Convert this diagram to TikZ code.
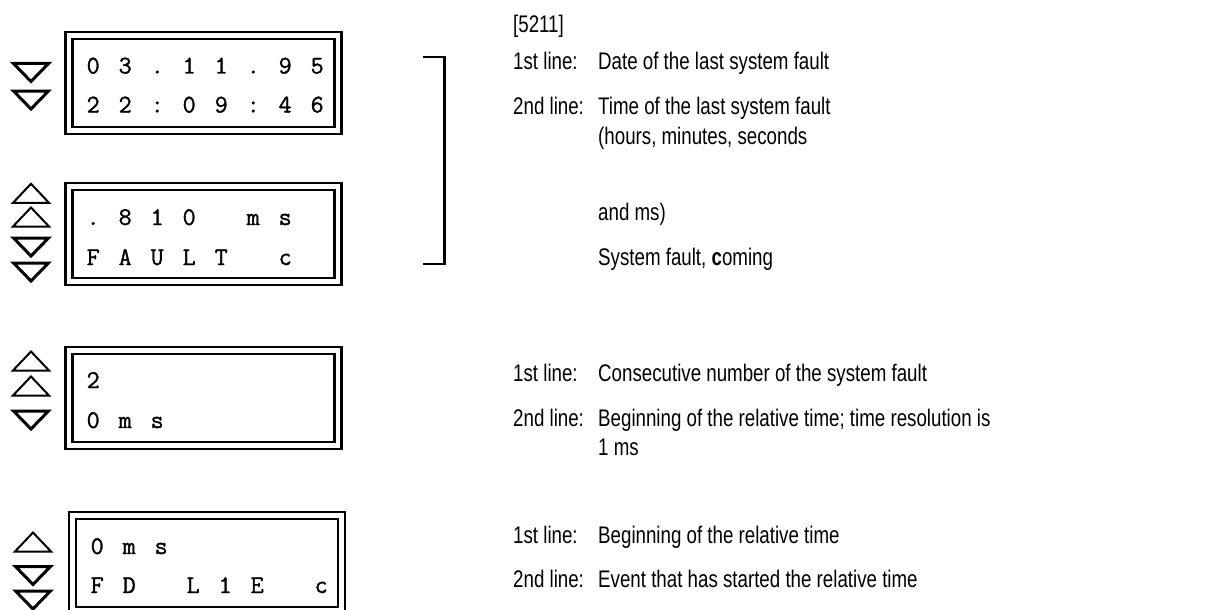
\documentclass[tikz,border=0pt]{standalone}
\usepackage{fontspec}
\usepackage{tikz}
\usetikzlibrary{positioning}
\newfontfamily\descfont{Liberation Sans}[FakeStretch=0.78]
\newfontfamily\lcdfam{Latin Modern Mono}[FakeBold=1.2]
\newcommand{\lcdfont}{\lcdfam\fontsize{25.5}{28}\selectfont}
% one 32pt cell per display character, _ is a blank cell
\newcommand{\lcd}[1]{\lcdstep#1\relax}
\def\lcdstep#1{\ifx#1\relax\else\makebox[32pt]{\ifx_#1\else#1\fi}\expandafter\lcdstep\fi}
\newcommand{\keydn}[2]{\draw[keydn] (#1-17.5,#2-9) -- (#1+17.5,#2-9) -- (#1,#2+9) -- cycle;}
\newcommand{\keyup}[2]{\draw[keyup] (#1-18,#2+9.5) -- (#1+18,#2+9.5) -- (#1,#2-9.5) -- cycle;}

\begin{document}
\begin{tikzpicture}[x=1pt,y=-1pt,
  lcdbox/.style={draw, line width=2.5pt, double, double distance=4.5pt,
    minimum width=269pt, minimum height=95pt, inner sep=0pt},
  lcdrow/.style={anchor=base west, inner sep=0pt, font=\lcdfont},
  desc/.style={anchor=base west, inner sep=0pt, font=\descfont\fontsize{24}{28}\selectfont},
  keydn/.style={line width=3pt},
  keyup/.style={line width=2pt}]
\useasboundingbox (0,0) rectangle (1218,610);

% displays
\node[lcdbox] (disp1) at (203.5,83) {};
\node[lcdbox] (disp2) at (203.5,234) {};
\node[lcdbox] (disp3) at (203.5,398) {};
\node[lcdbox] (disp4) at (207,563) {};

\node[lcdrow] (disp1a) at (77,73.5) {\lcd{03.11.95}};
\node[lcdrow] (disp1b) at (77,112.5) {\lcd{22:09:46}};
\node[lcdrow] (disp2a) at (77,225) {\lcd{.810_ms}};
\node[lcdrow] (disp2b) at (77,265) {\lcd{FAULT_c}};
\node[lcdrow] (disp3a) at (77,388) {\lcd{2}};
\node[lcdrow] (disp3b) at (77,428) {\lcd{0ms}};
\node[lcdrow] (disp4a) at (81,554) {\lcd{0ms}};
\node[lcdrow] (disp4b) at (81,593) {\lcd{FD_L1E_c}};

% keys
\keydn{31}{72.5}
\keydn{31}{100}
\keyup{31}{193.3}
\keyup{31}{217}
\keydn{31}{247}
\keydn{31}{272}
\keyup{31}{361}
\keyup{31}{386}
\keydn{31}{420}
\keyup{33}{542}
\keydn{33}{575.5}
\keydn{33}{600}

% bracket
\draw[line width=2.2pt] (423,57) -- (444.5,57) -- (444.5,264) -- (423,264);

% descriptions
\node[desc] (addr) at (513,33) {[5211]};
\node[desc] (lbl1a) at (513,70) {1st line:};
\node[desc] (txt1a) at (598,70) {Date of the last system fault};
\node[desc] (lbl1b) at (513,114) {2nd line:};
\node[desc] (txt1b) at (598,114) {Time of the last system fault};
\node[desc] (txt1c) at (598,144) {(hours, minutes, seconds};
\node[desc] (txt2a) at (598,220) {and ms)};
\node[desc] (txt2b) at (598,265) {System fault, \textbf{c}oming};
\node[desc] (lbl3a) at (513,381) {1st line:};
\node[desc] (txt3a) at (598,381) {Consecutive number of the system fault};
\node[desc] (lbl3b) at (513,426) {2nd line:};
\node[desc] (txt3b) at (598,426) {Beginning of the relative time; time resolution is};
\node[desc] (txt3c) at (598,455) {1 ms};
\node[desc] (lbl4a) at (513,543) {1st line:};
\node[desc] (txt4a) at (598,543) {Beginning of the relative time};
\node[desc] (lbl4b) at (513,587) {2nd line:};
\node[desc] (txt4b) at (598,587) {Event that has started the relative time};
\end{tikzpicture}
\end{document}
